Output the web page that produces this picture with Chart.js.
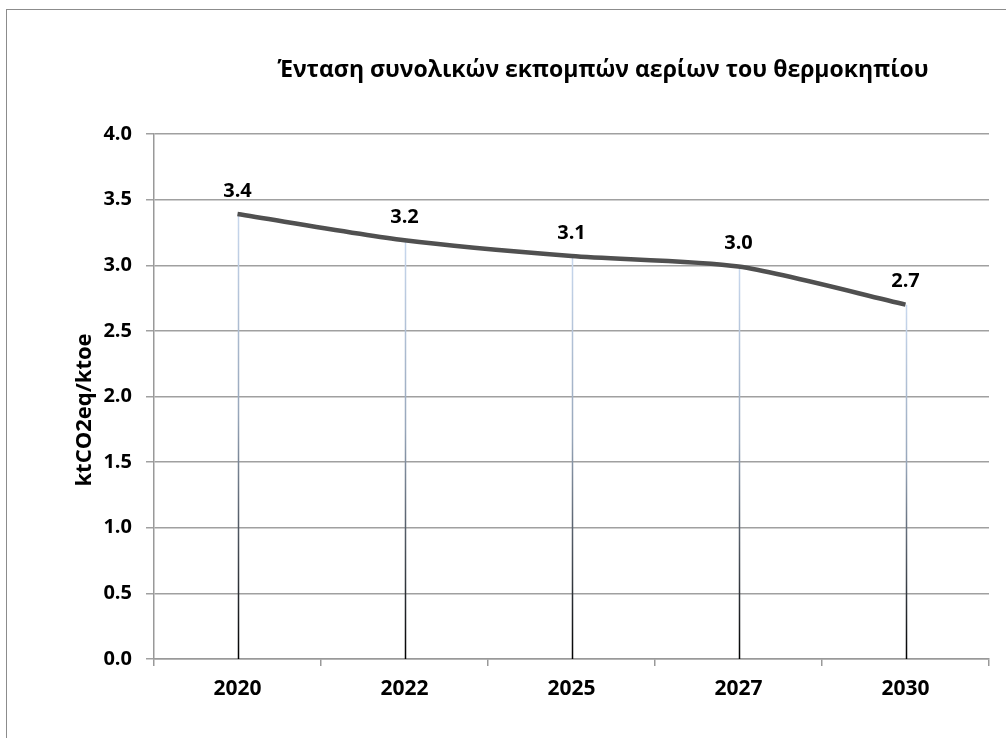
<!DOCTYPE html>
<html>
<head>
<meta charset="utf-8">
<script src="https://cdn.jsdelivr.net/npm/chart.js@4.4.1/dist/chart.umd.min.js"></script>
<style>
    html, body { margin:0; padding:0; background:#fff; overflow:hidden; }
    #wrap { position:relative; width:1006px; height:738px; }
    #frame { position:absolute; left:6px; top:9px; width:1010px; height:740px; border:1.5px solid #8c8c8c; box-sizing:border-box; }
    #chart { position:absolute; left:0; top:0; }
</style>
</head>
<body>
<div id="wrap">
    <div id="frame"></div>
    <canvas id="chart" width="1006" height="738"></canvas>
</div>
<script>
// Data
const chartTitle = 'Ένταση συνολικών εκπομπών αερίων του θερμοκηπίου';
const axisTitle = 'ktCO2eq/ktoe';
const years = ['2020', '2022', '2025', '2027', '2030'];
const intensity = [3.39, 3.19, 3.07, 2.99, 2.70];

const FONT = '"Open Sans", "Noto Sans", sans-serif';

// Chart title and y axis title, placed like the original (both a bit off-centre)
const titlePlugin = {
    id: 'titleText',
    afterDraw(chart) {
        const ctx = chart.ctx;
        ctx.save();
        ctx.fillStyle = '#000';
        ctx.textAlign = 'center';
        ctx.textBaseline = 'middle';
        ctx.font = 'bold 23px ' + FONT;
        ctx.fillText(chartTitle, 603, 70);

        ctx.font = 'bold 22px ' + FONT;
        ctx.translate(85, 410);
        ctx.rotate(-Math.PI / 2);
        ctx.fillText(axisTitle, 0, 0);
        ctx.restore();
    }
};

// Drop lines from each point to the x axis, light blue fading to black
const dropLines = {
    id: 'dropLines',
    beforeDatasetsDraw(chart) {
        const ctx = chart.ctx;
        const bottom = chart.chartArea.bottom;
        const meta = chart.getDatasetMeta(0);
        ctx.save();
        ctx.lineWidth = 1.5;
        meta.data.forEach(pt => {
            const g = ctx.createLinearGradient(0, pt.y, 0, bottom);
            g.addColorStop(0, '#c8d8ee');
            g.addColorStop(0.45, '#97a6ba');
            g.addColorStop(1, '#000000');
            ctx.strokeStyle = g;
            ctx.beginPath();
            ctx.moveTo(Math.round(pt.x) + 0.5, pt.y);
            ctx.lineTo(Math.round(pt.x) + 0.5, bottom);
            ctx.stroke();
        });
        ctx.restore();
    }
};

// Value labels above the points
const valueLabels = {
    id: 'valueLabels',
    afterDatasetsDraw(chart) {
        const ctx = chart.ctx;
        const meta = chart.getDatasetMeta(0);
        ctx.save();
        ctx.font = 'bold 20px ' + FONT;
        ctx.fillStyle = '#000';
        ctx.textAlign = 'center';
        ctx.textBaseline = 'middle';
        meta.data.forEach((pt, i) => {
            ctx.fillText(intensity[i].toFixed(1), pt.x, pt.y - 23);
        });
        ctx.restore();
    }
};

new Chart(document.getElementById('chart').getContext('2d'), {
    type: 'line',
    data: {
        labels: years,
        datasets: [{
            data: intensity,
            borderColor: '#505050',
            borderWidth: 4.5,
            tension: 0.25,
            pointRadius: 0,
            fill: false
        }]
    },
    options: {
        responsive: false,
        animation: false,
        layout: { padding: { left: 0, right: 17, top: 134, bottom: 0 } },
        plugins: {
            legend: { display: false },
            tooltip: { enabled: false }
        },
        scales: {
            x: {
                offset: true,
                grid: { offset: true, drawOnChartArea: false, drawTicks: true, tickLength: 7, color: '#999', lineWidth: 1.5 },
                border: { color: '#999', width: 1.5 },
                ticks: { color: '#000', font: { family: FONT, size: 21, weight: 'bold' }, padding: 10 },
                afterFit: (s) => { s.height = 79; }
            },
            y: {
                min: 0,
                max: 4,
                ticks: {
                    stepSize: 0.5,
                    color: '#000',
                    font: { family: FONT, size: 20, weight: 'bold' },
                    padding: 14,
                    callback: (v) => v.toFixed(1)
                },
                grid: { color: '#a0a0a0', lineWidth: 1.5, tickLength: 8 },
                border: { color: '#999', width: 1.5 },
                afterFit: (s) => { s.width = 154; }
            }
        }
    },
    plugins: [dropLines, valueLabels, titlePlugin]
});
</script>
</body>
</html>
